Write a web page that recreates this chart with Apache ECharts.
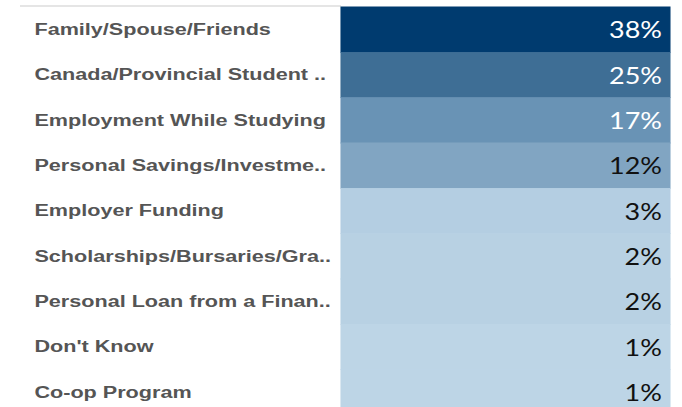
<!DOCTYPE html>
<html>
<head>
<meta charset="utf-8">
<script src="https://cdn.jsdelivr.net/npm/echarts@6/dist/echarts.min.js"></script>
<style>
  html, body { margin: 0; padding: 0; background: #fff; }
  #wrap { width: 682px; height: 407px; overflow: hidden; position: relative; }
  /* the table is laid out at a narrower width and stretched horizontally;
     the last row runs past the bottom edge */
  #chart { width: 505px; height: 420px; transform: scaleX(1.3505); transform-origin: 0 0; }
</style>
</head>
<body>
<div id="wrap"><div id="chart"></div></div>
<script>
// Funding sources, share of respondents (%)
const categories = [
  'Family/Spouse/Friends',
  'Canada/Provincial Student ..',
  'Employment While Studying',
  'Personal Savings/Investme..',
  'Employer Funding',
  'Scholarships/Bursaries/Gra..',
  'Personal Loan from a Finan..',
  "Don't Know",
  'Co-op Program'
];
const shares = [38, 25, 17, 12, 3, 2, 2, 1, 1];

// sequential blue ramp keyed by value
const colorStops = [
  [1, '#bdd5e6'],
  [2, '#b8d1e3'],
  [3, '#b4cee2'],
  [12, '#81a5c2'],
  [17, '#6993b5'],
  [25, '#3e6e95'],
  [38, '#003b6f']
];

const chart = echarts.init(document.getElementById('chart'), null, { renderer: 'svg' });

const cellData = shares.map((v, i) => [0, i, v]);

// one highlight cell per row, value text right-aligned and slightly condensed
function renderCell(params, api) {
  const v = api.value(2);
  const c = api.coord([api.value(0), api.value(1)]);
  const s = api.size([1, 1]);
  const x0 = c[0] - s[0] / 2;
  const y0 = c[1] - s[1] / 2;
  const fill = api.visual('color');
  return {
    type: 'group',
    children: [
      {
        type: 'rect',
        shape: { x: x0, y: y0, width: s[0], height: s[1] },
        // same-colour stroke closes the hairline seams between rows
        style: { fill: fill, stroke: fill, lineWidth: 0.8 }
      },
      {
        type: 'text',
        x: x0 + s[0] - 6,
        y: c[1] - 0.5,
        scaleX: 0.85,
        style: {
          text: v + '%',
          fill: v >= 15 ? '#ffffff' : '#111111',
          font: '23.5px Lato, sans-serif',
          align: 'right',
          verticalAlign: 'middle'
        }
      }
    ]
  };
}

chart.setOption({
  animation: false,
  grid: { left: 252.5, top: 7, width: 243.6, height: 408, show: false },
  xAxis: {
    type: 'category',
    data: ['share'],
    show: false
  },
  yAxis: {
    type: 'category',
    data: categories,
    inverse: true,
    axisLine: { show: false },
    axisTick: { show: false },
    splitLine: { show: false },
    axisLabel: {
      align: 'left',
      margin: 227,
      fontFamily: 'Liberation Sans, Arial, sans-serif',
      fontWeight: 'bold',
      fontSize: 16,
      color: '#555555'
    }
  },
  visualMap: {
    show: false,
    type: 'piecewise',
    dimension: 2,
    pieces: colorStops.map(([v, c]) => ({ value: v, color: c }))
  },
  graphic: [{
    type: 'line',
    shape: { x1: 14.8, y1: 6, x2: 252.5, y2: 6 },
    style: { stroke: '#dcdcdc', lineWidth: 1.5 },
    silent: true
  }],
  series: [{
    type: 'custom',
    renderItem: renderCell,
    data: cellData,
    encode: { x: 0, y: 1 },
    silent: true
  }]
});
</script>
</body>
</html>
